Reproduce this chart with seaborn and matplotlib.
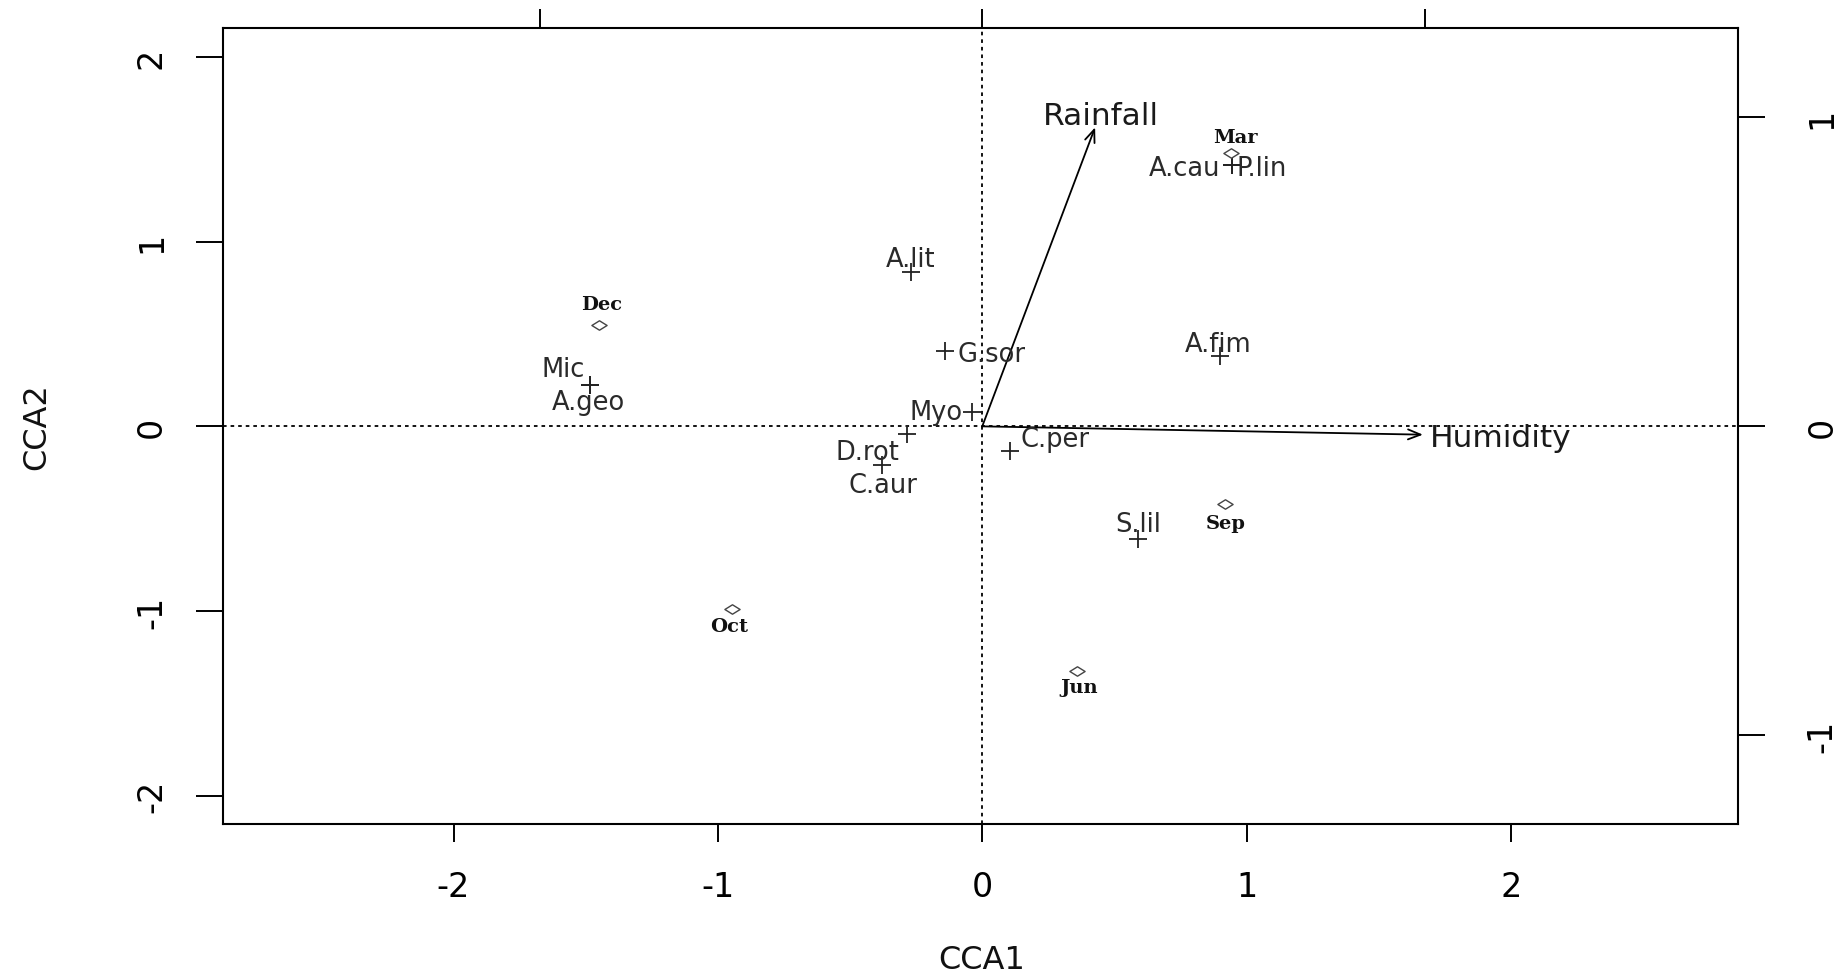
import matplotlib
matplotlib.use("Agg")
import matplotlib.pyplot as plt
from matplotlib.path import Path
import pandas as pd
import seaborn as sns

# ---------------- data ----------------
species = ["Mic", "A.geo", "A.lit", "G.sor", "Myo", "D.rot", "C.aur",
           "C.per", "S.lil", "A.fim", "A.cau", "P.lin"]
species_cca1 = [-1.483, -1.483, -0.271, -0.140, -0.039, -0.283, -0.380,
                0.106, 0.591, 0.901, 0.944, 0.944]
species_cca2 = [0.224, 0.224, 0.834, 0.409, 0.076, -0.042, -0.208,
                -0.132, -0.610, 0.381, 1.415, 1.415]

sites = ["Dec", "Mar", "Oct", "Jun", "Sep"]
site_cca1 = [-1.451, 0.941, -0.948, 0.358, 0.919]
site_cca2 = [0.548, 1.478, -0.990, -1.322, -0.421]

env_vars = ["Rainfall", "Humidity"]
env_cca1 = [0.427, 1.667]
env_cca2 = [1.619, -0.045]

main_ticks = [-2, -1, 0, 1, 2]
biplot_ticks = [-1, 0, 1]
biplot_scale = 0.5976          # biplot-axis units per main-axis unit
x_range = (-2.873, 2.859)
y_range = (-2.153, 2.157)

# ---------------- label placement (pixel offsets, styling) ----------------
species_offsets = {
    "Mic": (-5, 16, "right"), "A.geo": (-2, -17, "center"),
    "A.lit": (0, 13, "center"), "G.sor": (12, -3, "left"),
    "Myo": (-9, 0, "right"), "D.rot": (-40, -18, "center"),
    "C.aur": (1, -20, "center"), "C.per": (10, 12, "left"),
    "S.lil": (0, 15, "center"), "A.fim": (-2, 12, "center"),
    "A.cau": (-11, -3, "right"), "P.lin": (5, -3, "left"),
}
site_offsets = {
    "Dec": (2.5, 21), "Mar": (4, 16.5), "Oct": (-2.5, -16.5),
    "Jun": (2.5, -16.5), "Sep": (1, -18.5),
}
env_offsets = {"Rainfall": (5.5, 12, "center"), "Humidity": (7, -3, "left")}
PX = 0.72  # pixels -> points at dpi 100

species_df = pd.DataFrame({"CCA1": species_cca1, "CCA2": species_cca2, "name": species})
site_df = pd.DataFrame({"CCA1": site_cca1, "CCA2": site_cca2, "name": sites})

sns.set_theme(style="ticks")
plt.rcParams["font.family"] = ["DejaVu Sans"]
plt.rcParams["axes.unicode_minus"] = False
plt.rcParams["axes.edgecolor"] = "black"

fig = plt.figure(figsize=(18.47, 9.79), dpi=100)
ax = fig.add_axes([0.1206, 0.1573, 0.9410 - 0.1206, 0.9704 - 0.1573])

ax.set_xlim(*x_range)
ax.set_ylim(*y_range)

# dotted reference lines
ax.axhline(0, color="black", lw=1.3, ls=(0, (2, 2.2)), zorder=1)
ax.axvline(0, color="black", lw=1.3, ls=(0, (2, 2.2)), zorder=1)

# species (+)
sns.scatterplot(data=species_df, x="CCA1", y="CCA2", marker="+", s=160,
                color="#222222", linewidth=1.3, ax=ax, zorder=3, legend=False)

# sites (small open diamonds, horizontally wide)
diamond = Path([(-1, 0), (0, 0.62), (1, 0), (0, -0.62), (-1, 0)],
               [Path.MOVETO, Path.LINETO, Path.LINETO, Path.LINETO, Path.CLOSEPOLY])
sns.scatterplot(data=site_df, x="CCA1", y="CCA2", marker=diamond, s=120,
                color="white", edgecolor="#444444", linewidth=1.0, ax=ax,
                zorder=3, legend=False)

# species labels
for name, x, y in zip(species, species_cca1, species_cca2):
    dx, dy, ha = species_offsets[name]
    ax.annotate(name, (x, y), xytext=(dx * PX, dy * PX), textcoords="offset points",
                ha=ha, va="center", fontsize=18.5, color="#2a2a2a", zorder=4)

# site labels
for name, x, y in zip(sites, site_cca1, site_cca2):
    dx, dy = site_offsets[name]
    ax.annotate(name, (x, y), xytext=(dx * PX, dy * PX), textcoords="offset points",
                ha="center", va="center", fontsize=14, fontweight="bold",
                family="DejaVu Serif", color="#111111", zorder=4)

# environmental arrows
for name, x, y in zip(env_vars, env_cca1, env_cca2):
    ax.annotate("", xy=(x, y), xytext=(0, 0),
                arrowprops=dict(arrowstyle="->,head_length=0.75,head_width=0.3",
                                lw=1.3, color="black", shrinkA=0, shrinkB=0),
                zorder=2)
    dx, dy, ha = env_offsets[name]
    ax.annotate(name, (x, y), xytext=(dx * PX, dy * PX), textcoords="offset points",
                ha=ha, va="center", fontsize=22.5, color="#1a1a1a", zorder=4)

# main axes
for sp in ax.spines.values():
    sp.set_visible(True)
    sp.set_linewidth(1.5)
    sp.set_color("black")
ax.set_xticks(main_ticks)
ax.set_yticks(main_ticks)
ax.tick_params(axis="x", length=13, width=1.4, pad=20, labelsize=24,
               colors="black", bottom=True, top=False)
ax.tick_params(axis="y", length=19.5, width=1.4, pad=20, labelsize=24,
               colors="black", left=True, right=False, labelrotation=90)
for lbl in ax.get_yticklabels():
    lbl.set_va("center")

ax.set_xlabel("CCA1", fontsize=23, color="#111111")
ax.set_ylabel("CCA2", fontsize=23, color="#111111")
ax.xaxis.label.set_va("center")
ax.yaxis.label.set_va("center")
ax.xaxis.set_label_coords(0.501, -0.170)
ax.yaxis.set_label_coords(-0.123, 0.5)

# biplot scale axes (top & right)
k = biplot_scale
top = ax.secondary_xaxis("top", functions=(lambda v: v * k, lambda v: v / k))
top.set_xticks(biplot_ticks)
top.set_xticklabels([])
top.tick_params(length=13.7, width=1.4, colors="black")
top.spines["top"].set_visible(False)

right = ax.secondary_yaxis("right", functions=(lambda v: v * k, lambda v: v / k))
right.set_yticks(biplot_ticks)
right.tick_params(length=19.5, width=1.4, pad=29, labelsize=24,
                  colors="black", labelrotation=90)
for lbl in right.get_yticklabels():
    lbl.set_va("center")
right.spines["right"].set_visible(False)

sns.despine(ax=ax, top=False, right=False, left=False, bottom=False)
fig.savefig("out.png", dpi=100)
